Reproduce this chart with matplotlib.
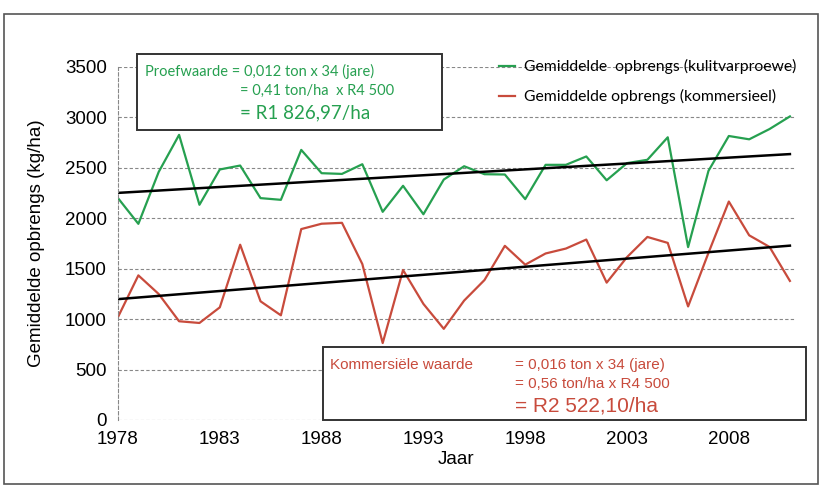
import numpy as np
import matplotlib
matplotlib.use("Agg")
import matplotlib.pyplot as plt
from matplotlib.patches import Rectangle

years = np.arange(1978, 2012)
proewe = [2200, 1945, 2460, 2827, 2134, 2484, 2523, 2200, 2183, 2678, 2447, 2440,
          2536, 2064, 2322, 2040, 2384, 2516, 2437, 2434, 2190, 2530, 2530, 2613,
          2377, 2547, 2580, 2803, 1714, 2470, 2816, 2783, 2885, 3010]
kommersieel = [1021, 1434, 1249, 979, 962, 1117, 1738, 1177, 1038, 1893, 1946, 1955,
               1546, 763, 1487, 1151, 904, 1184, 1388, 1727, 1540, 1651, 1700, 1789,
               1362, 1615, 1815, 1756, 1126, 1657, 2166, 1831, 1716, 1379]
xticks = [1978, 1983, 1988, 1993, 1998, 2003, 2008]
yticks = [0, 500, 1000, 1500, 2000, 2500, 3000, 3500]

W, H = 823, 490
green = "#26a050"
red = "#c84b3c"


def fx(px):
    return px / W


def fy(py):
    return 1 - py / H


fig = plt.figure(figsize=(W / 100, H / 100), dpi=100)
fig.patches.append(Rectangle((fx(4), fy(484)), fx(814), (484 - 14) / H,
                             transform=fig.transFigure, fill=False,
                             edgecolor="#555555", lw=1.2))

ax = fig.add_axes([fx(118), fy(420), fx(795 - 118), (420 - 67) / H])
ax.plot(years, proewe, color=green, lw=1.6, label="Gemiddelde  opbrengs (kulitvarproewe)")
ax.plot(years, kommersieel, color=red, lw=1.6, label="Gemiddelde opbrengs (kommersieel)")

# lineere tendenslyne
for s in (proewe, kommersieel):
    k, c = np.polyfit(years, s, 1)
    ax.plot(years, k * years + c, color="black", lw=1.8)

ax.set_xlim(1978, 2011.25)
ax.set_ylim(0, 3500)
ax.set_xticks(xticks)
ax.set_yticks(yticks)
ax.tick_params(length=0, labelsize=13.5, pad=8)
for lab in ax.get_xticklabels() + ax.get_yticklabels():
    lab.set_family("Liberation Sans")
ax.yaxis.grid(True, ls=(0, (3, 2)), color="#888888", lw=0.8)
for sp in ["top", "right", "bottom"]:
    ax.spines[sp].set_visible(False)
ax.spines["left"].set_linestyle((0, (3, 2)))
ax.spines["left"].set_color("#888888")
ax.spines["left"].set_linewidth(0.8)
ax.set_xlabel("Jaar", family="Liberation Sans", fontsize=13.5, labelpad=2)
ax.set_ylabel("Gemiddelde opbrengs (kg/ha)", family="Liberation Sans", fontsize=13.5, labelpad=14)

leg = ax.legend(loc="upper left", bbox_to_anchor=(fx(485), fy(45)),
                bbox_transform=fig.transFigure, frameon=False, handlelength=1.0,
                handletextpad=0.6, labelspacing=0.95, prop={"family": "Lato", "size": 11.3})

# kassie: proefwaarde
fig.patches.append(Rectangle((fx(137), fy(130)), fx(442 - 137), (130 - 54) / H,
                             transform=fig.transFigure, facecolor="white",
                             edgecolor="#333333", lw=1.4, zorder=5))
fig.text(fx(145), fy(71), "Proefwaarde = 0,012 ton x 34 (jare)", color=green,
         family="Lato", fontsize=10.5, va="center", zorder=6)
fig.text(fx(240), fy(91), "= 0,41 ton/ha  x R4 500", color=green,
         family="Lato", fontsize=10.5, va="center", zorder=6)
fig.text(fx(240), fy(113), "= R1 826,97/ha", color=green,
         family="Lato", fontsize=13.5, va="center", zorder=6)

# kassie: kommersiele waarde
fig.patches.append(Rectangle((fx(323), fy(420)), fx(806 - 323), (420 - 347) / H,
                             transform=fig.transFigure, facecolor="white",
                             edgecolor="#333333", lw=1.4, zorder=5))
fig.text(fx(330), fy(365), "Kommersiële waarde", color=red,
         family="Liberation Sans", fontsize=11, va="center", zorder=6)
fig.text(fx(515), fy(365), "= 0,016 ton x 34 (jare)", color=red,
         family="Liberation Sans", fontsize=11, va="center", zorder=6)
fig.text(fx(515), fy(384), "= 0,56 ton/ha x R4 500", color=red,
         family="Liberation Sans", fontsize=11, va="center", zorder=6)
fig.text(fx(515), fy(406), "= R2 522,10/ha", color=red,
         family="Liberation Sans", fontsize=15, va="center", zorder=6)

fig.savefig("out.png", dpi=100)
